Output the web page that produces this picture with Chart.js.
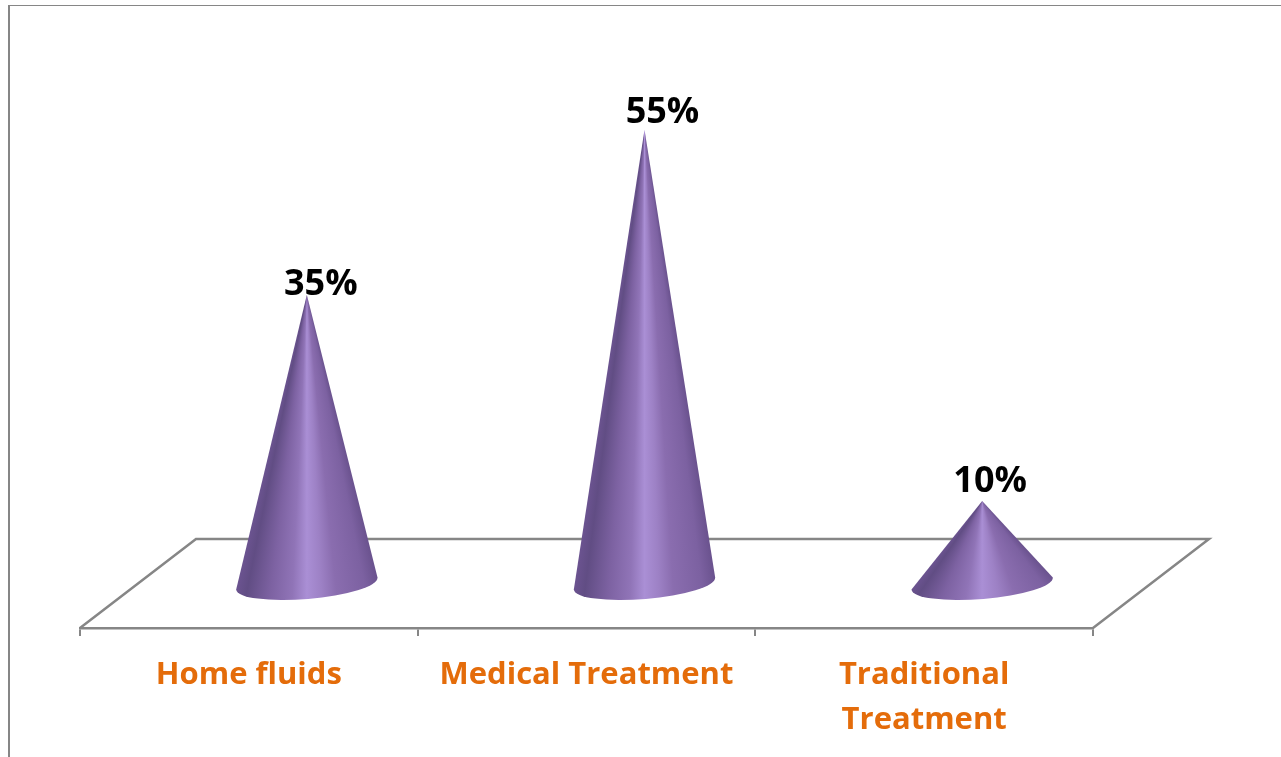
<!DOCTYPE html>
<html>
<head>
<meta charset="utf-8">
<title>Treatment</title>
<script src="https://cdn.jsdelivr.net/npm/chart.js@4/dist/chart.umd.min.js"></script>
<style>
  html, body { margin: 0; padding: 0; background: #fff; overflow: hidden; }
  #frame { position: absolute; left: 8px; top: 5px; right: -4px; bottom: -4px; border-left: 2px solid #868686; border-top: 1.5px solid #868686; }
  canvas { position: absolute; left: 0; top: 0; }
</style>
</head>
<body>
<div id="frame"></div>
<canvas id="chart" width="1281" height="757"></canvas>
<script>
const categories = ["Home fluids", "Medical Treatment", ["Traditional", "Treatment"]];
const percentages = [35, 55, 10];
const labelNudgeX = [14, 18, 8]; // value labels do not sit centred on the tips
const labelNudgeY = [0, -7, -9];

const lineGray = "#868686";
const labelFont = "'Open Sans', Lato, sans-serif";

// floor depth of the fake 3D, cones stand half way back
const depthX = 116;
const depthY = -89;

// shading across the cone, 0 = left edge, 1 = right edge
const shading = [
  [0, "#6b5390"], [0.08, "#614d84"], [0.25, "#7d62a2"], [0.4, "#9074b7"],
  [0.5, "#aa8fd5"], [0.6, "#9d81c5"], [0.7, "#8a6daf"], [0.9, "#7c61a1"], [1, "#6a528e"],
];

const floorPlugin = {
  id: "floor",
  beforeDatasetsDraw(chart) {
    const { ctx, chartArea: a } = chart;
    ctx.save();
    ctx.strokeStyle = lineGray;
    ctx.lineWidth = 2.5;
    ctx.beginPath();
    ctx.moveTo(a.left, a.bottom);
    ctx.lineTo(a.left + depthX, a.bottom + depthY);
    ctx.lineTo(a.right + depthX, a.bottom + depthY);
    ctx.lineTo(a.right, a.bottom);
    ctx.stroke();
    ctx.restore();
  },
};

const conePlugin = {
  id: "cones",
  afterDatasetsDraw(chart) {
    const { ctx } = chart;
    const tilt = -4.8 * Math.PI / 180;
    chart.getDatasetMeta(0).data.forEach((bar, i) => {
      const cx = bar.x + depthX / 2;
      const cy = bar.base + depthY / 2;
      const tipY = bar.y + depthY / 2;
      const rx = bar.width / 2;
      const ry = 15.5;
      const grad = ctx.createConicGradient(0, cx, tipY);
      shading.forEach(([t, color]) => {
        const bx = cx + (t * 2 - 1) * rx * Math.cos(tilt);
        const by = cy + (t * 2 - 1) * rx * Math.sin(tilt);
        grad.addColorStop(Math.atan2(by - tipY, bx - cx) / (2 * Math.PI), color);
      });
      ctx.save();
      ctx.fillStyle = grad;
      ctx.beginPath();
      ctx.moveTo(cx, tipY);
      ctx.ellipse(cx, cy, rx, ry, tilt, 0, Math.PI);
      ctx.closePath();
      ctx.fill();
      ctx.fillStyle = "#000";
      ctx.font = "bold 36px " + labelFont;
      ctx.textAlign = "center";
      ctx.textBaseline = "alphabetic";
      ctx.fillText(percentages[i] + "%", cx + labelNudgeX[i], tipY + labelNudgeY[i]);
      ctx.restore();
    });
  },
};

new Chart(document.getElementById("chart"), {
  type: "bar",
  data: {
    labels: categories,
    datasets: [{
      data: percentages,
      backgroundColor: "rgba(0,0,0,0)",
      barPercentage: 0.42,
      categoryPercentage: 1,
    }],
  },
  plugins: [floorPlugin, conePlugin],
  options: {
    responsive: false,
    animation: false,
    layout: { padding: { left: 80, right: 188, top: 133, bottom: 0 } },
    plugins: { legend: { display: false }, tooltip: { enabled: false } },
    scales: {
      y: { display: false, min: 0, max: 60 },
      x: {
        afterFit(scale) { scale.height = 129; },
        border: { color: lineGray, width: 2.5 },
        grid: { drawOnChartArea: false, color: lineGray, lineWidth: 2, tickLength: 8 },
        ticks: {
          color: "#E46C0A",
          padding: 17,
          maxRotation: 0,
          autoSkip: false,
          font: { family: labelFont, size: 31, weight: "bold", lineHeight: 1.45 },
        },
      },
    },
  },
});
</script>
</body>
</html>
